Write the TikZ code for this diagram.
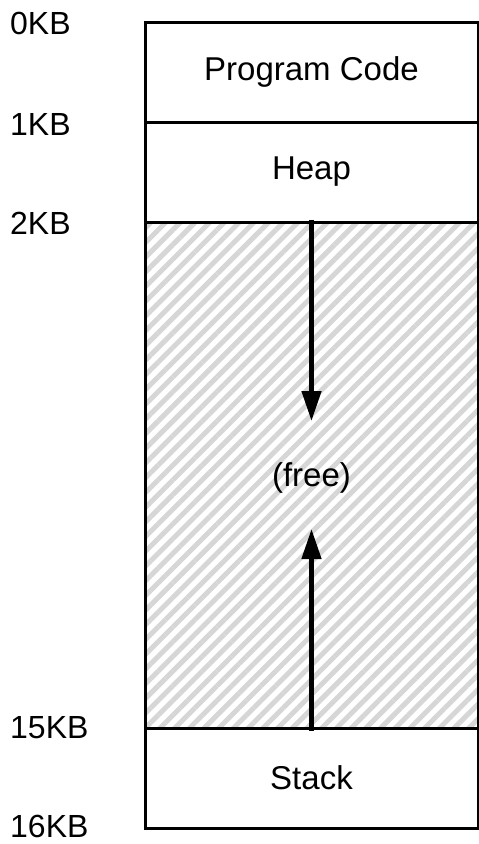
\documentclass[tikz,border=0pt]{standalone}
\usepackage{fontspec}
\setmainfont{Liberation Sans}
\usetikzlibrary{arrows.meta,patterns.meta}
\definecolor{hatch}{HTML}{D6D6D6}
\tikzset{
  seg/.style={draw, line width=3pt, rectangle, inner sep=0pt, minimum width=333pt, font=\fontsize{33}{40}\selectfont},
  addr/.style={anchor=west, inner sep=0pt, font=\fontsize{32}{38}\selectfont},
  growarrow/.style={line width=4.5pt, -{Triangle[length=30pt,width=19pt]}}
}
\begin{document}
\begin{tikzpicture}[x=1pt,y=-1pt]
\useasboundingbox (0,0) rectangle (479,844);
\node[seg, minimum height=100pt] (code) at (311.5,72) {Program Code};
\node[seg, minimum height=100pt] (heap) at (311.5,172) {Heap};
\node[seg, minimum height=506pt, pattern={Lines[angle=45,distance=10.4pt,line width=5pt]}, pattern color=hatch] (free) at (311.5,475) {};
\node[seg, minimum height=100pt] (stack) at (311.5,778) {Stack};
\node[font=\fontsize{33}{40}\selectfont] (freelbl) at (311.5,478) {(free)};
\coordinate (dtip) at (311.5,421);
\coordinate (utip) at (311.5,529);
\draw[growarrow] (free.north) -- (dtip);
\draw[growarrow] (free.south) -- (utip);
\node[addr] (a0) at (10,23) {0KB};
\node[addr] (a1) at (10,124) {1KB};
\node[addr] (a2) at (10,223) {2KB};
\node[addr] (a15) at (10,728) {15KB};
\node[addr] (a16) at (10,826) {16KB};
\end{tikzpicture}
\end{document}
